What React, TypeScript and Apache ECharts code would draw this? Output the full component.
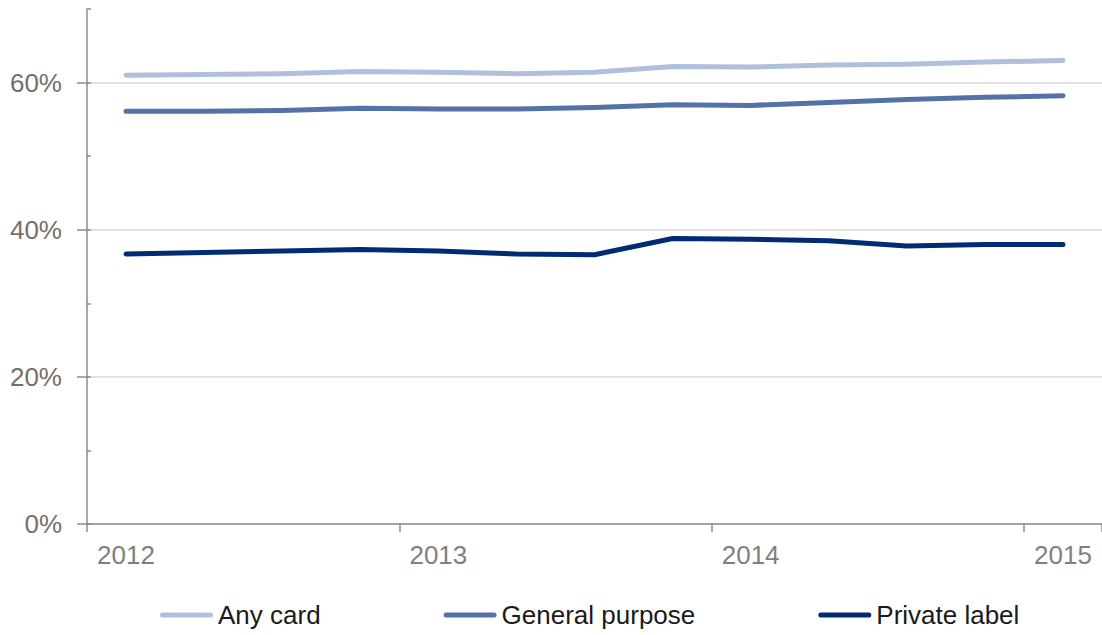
import React, { useEffect, useRef } from "react";
import * as echarts from "echarts";

const quarters = [
  "2012 Q1", "2012 Q2", "2012 Q3", "2012 Q4",
  "2013 Q1", "2013 Q2", "2013 Q3", "2013 Q4",
  "2014 Q1", "2014 Q2", "2014 Q3", "2014 Q4",
  "2015 Q1",
];
const anyCard = [61.0, 61.1, 61.2, 61.5, 61.4, 61.2, 61.4, 62.2, 62.1, 62.4, 62.5, 62.8, 63.0];
const generalPurpose = [56.1, 56.1, 56.2, 56.5, 56.4, 56.4, 56.6, 57.0, 56.9, 57.3, 57.7, 58.0, 58.2];
const privateLabel = [36.7, 36.9, 37.1, 37.3, 37.1, 36.7, 36.6, 38.8, 38.7, 38.5, 37.8, 38.0, 38.0];
const yLabelValues = [0, 20, 40, 60];

const FONT = 'Arial, "Liberation Sans", sans-serif';
const AXIS = "#8c8c8c";

export default function App() {
  const ref = useRef<HTMLDivElement>(null);
  useEffect(() => {
    if (!ref.current) return;
    const chart = echarts.init(ref.current, null, { renderer: "svg" });
    const mkSeries = (name: string, data: number[], color: string) => ({
      name,
      type: "line",
      data,
      symbol: "none",
      yAxisIndex: 0,
      color,
      lineStyle: { width: 5, color, cap: "round", join: "round" },
    });
    chart.setOption({
      animation: false,
      backgroundColor: "#ffffff",
      textStyle: { fontFamily: FONT },
      grid: { left: 87, right: -3, top: 9, bottom: 111, containLabel: false },
      legend: {
        left: 160,
        top: 602,
        padding: 0,
        icon: "path://M2.5,0 H50.5 A2.5,2.5 0 0 1 50.5,5 H2.5 A2.5,2.5 0 0 1 2.5,0 Z",
        itemWidth: 53,
        itemHeight: 5,
        itemGap: 123,
        textStyle: { fontSize: 26, color: "#1a1a1a", fontFamily: FONT },
        data: ["Any card", "General purpose", "Private label"],
      },
      xAxis: {
        type: "category",
        data: quarters,
        boundaryGap: true,
        axisLine: { show: true, lineStyle: { color: AXIS, width: 1.5 } },
        axisTick: { show: true, interval: 3, length: 8, lineStyle: { color: AXIS, width: 1.5 } },
        axisLabel: {
          interval: 3,
          formatter: (v: string) => v.slice(0, 4),
          fontSize: 26,
          color: "#7f7f7f",
          margin: 18,
          fontFamily: FONT,
        },
        splitLine: { show: false },
      },
      yAxis: [
        {
          type: "value",
          min: 0,
          max: 70,
          interval: 10,
          position: "left",
          axisLine: { show: true, lineStyle: { color: AXIS, width: 1.5 } },
          axisTick: { show: true, length: 10, customValues: yLabelValues, lineStyle: { color: AXIS, width: 1.5 } },
          axisLabel: {
            customValues: yLabelValues,
            formatter: "{value}%",
            fontSize: 26,
            color: "#786e66",
            margin: 25,
            fontFamily: FONT,
          },
          splitLine: { show: true, lineStyle: { color: "#d9d9d9", width: 1.5 } },
        },
        {
          type: "value",
          min: 0,
          max: 70,
          interval: 10,
          position: "left",
          axisLine: { show: false },
          axisTick: { show: true, inside: true, length: 4, lineStyle: { color: AXIS, width: 1.5 } },
          axisLabel: { show: false },
          splitLine: { show: false },
        },
      ],
      series: [
        mkSeries("Any card", anyCard, "#b0bfda"),
        mkSeries("General purpose", generalPurpose, "#5572a6"),
        mkSeries("Private label", privateLabel, "#012b73"),
      ],
    });
    return () => chart.dispose();
  }, []);
  return (
    <div
      ref={ref}
      style={{ position: "fixed", left: 0, top: 0, width: 1102, height: 635, background: "#fff" }}
    />
  );
}
